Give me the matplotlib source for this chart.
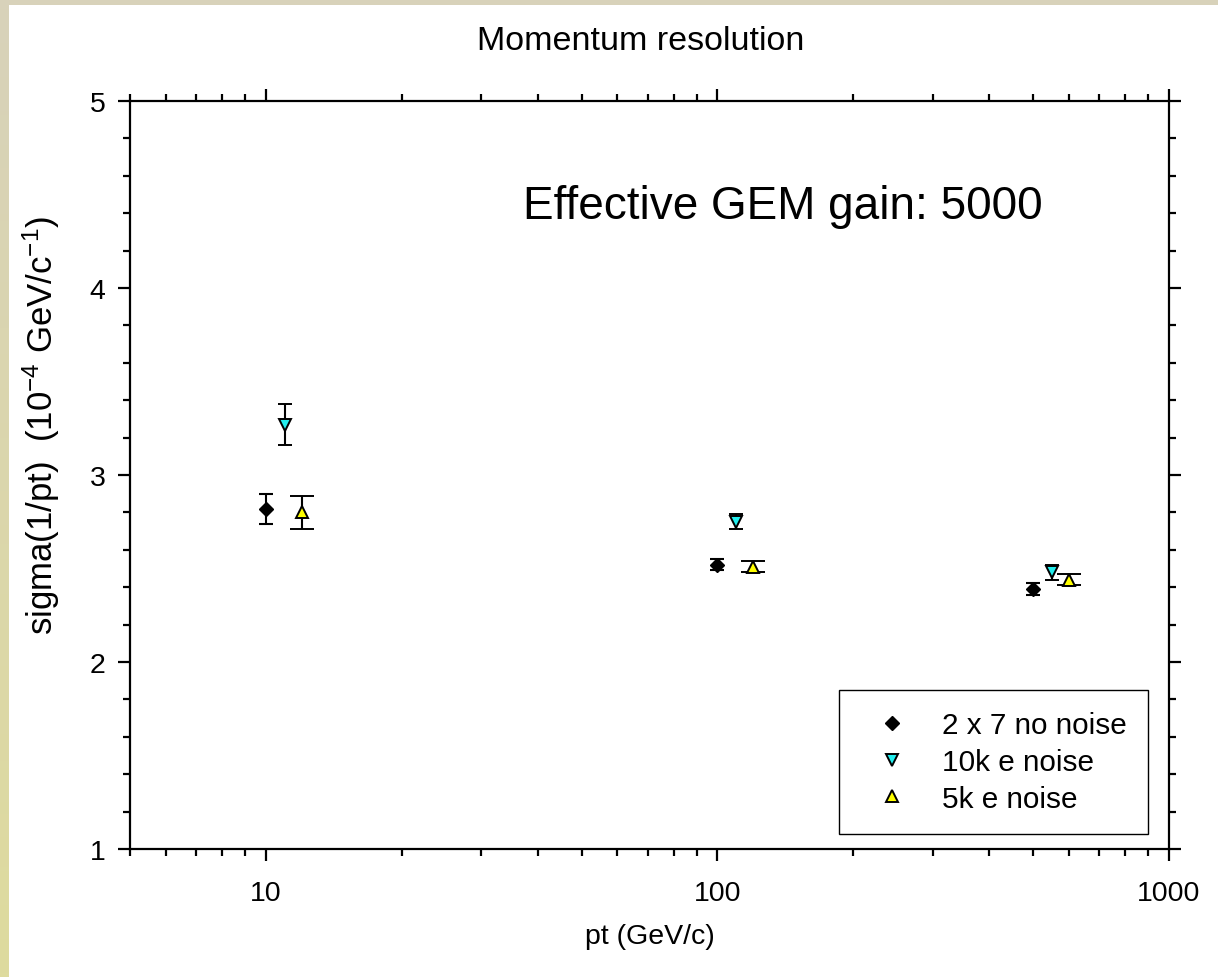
import numpy as np
import matplotlib
matplotlib.use("Agg")
import matplotlib.pyplot as plt
from matplotlib.patches import Rectangle
from matplotlib.ticker import FixedLocator, NullFormatter, FixedFormatter

plt.rcParams['font.family'] = ['Liberation Sans', 'DejaVu Sans']
plt.rcParams['mathtext.fontset'] = 'custom'
plt.rcParams['mathtext.rm'] = 'Liberation Sans'
plt.rcParams['mathtext.it'] = 'Liberation Sans'
plt.rcParams['mathtext.sf'] = 'Liberation Sans'

# data
pt_nonoise = [10, 100, 500]
sig_nonoise = [2.82, 2.52, 2.39]
err_nonoise = [0.08, 0.03, 0.03]

pt_10k = [11, 110, 550]
sig_10k = [3.27, 2.75, 2.48]
err_10k = [0.11, 0.04, 0.04]

pt_5k = [12, 120, 600]
sig_5k = [2.80, 2.51, 2.44]
err_5k = [0.09, 0.03, 0.03]

labels = ["2 x 7 no noise", "10k e noise", "5k e noise"]
x_ticks = [10, 100, 1000]
y_ticks = [1, 2, 3, 4, 5]

W, H = 1218, 978
fig = plt.figure(figsize=(W / 100, H / 100), dpi=100, facecolor='white')

# beige border strips
fig.add_artist(Rectangle((0, 1 - 6 / H), 1, 6 / H, transform=fig.transFigure,
                         facecolor='#d8d2ba', edgecolor='none', zorder=0))
gax = fig.add_axes([0, 0, 9 / W, 1 - 6 / H])
grad = np.linspace(0, 1, 256)[:, None]
c_top = np.array([216, 210, 186]) / 255
c_bot = np.array([222, 219, 158]) / 255
img = c_top[None, None, :] * (1 - grad[:, :, None]) + c_bot[None, None, :] * grad[:, :, None]
gax.imshow(img, aspect='auto', extent=[0, 1, 0, 1])
gax.set_axis_off()

ax = fig.add_axes([130 / W, 1 - 850 / H, (1169 - 130) / W, (850 - 102) / H])
ax.set_xscale('log')
ax.set_xlim(5, 1000)
ax.set_ylim(1, 5)

CYAN = '#22eeee'
YELLOW = '#ffff00'
ekw = dict(linestyle='none', ecolor='black', elinewidth=1.5, capthick=1.5)
ax.errorbar(pt_nonoise, sig_nonoise, yerr=err_nonoise, marker='D', markersize=7.2,
            markerfacecolor='black', markeredgecolor='black', capsize=5, **ekw, zorder=3)
ax.errorbar(pt_10k, sig_10k, yerr=err_10k, marker='v', markersize=9,
            markerfacecolor=CYAN, markeredgecolor='black', markeredgewidth=1.4,
            capsize=5, **ekw, zorder=3)
ax.errorbar(pt_5k, sig_5k, yerr=err_5k, marker='^', markersize=9,
            markerfacecolor=YELLOW, markeredgecolor='black', markeredgewidth=1.4,
            capsize=8.3, **ekw, zorder=3)

# legend handles (markers only)
h1, = ax.plot([], [], linestyle='none', marker='D', markersize=6.8,
              markerfacecolor='black', markeredgecolor='black')
h2, = ax.plot([], [], linestyle='none', marker='v', markersize=8.5,
              markerfacecolor=CYAN, markeredgecolor='black', markeredgewidth=1.4)
h3, = ax.plot([], [], linestyle='none', marker='^', markersize=8.5,
              markerfacecolor=YELLOW, markeredgecolor='black', markeredgewidth=1.4)
leg = ax.legend([h1, h2, h3], labels, loc='lower right',
                bbox_to_anchor=((1148 - 130) / (1169 - 130), (850 - 835) / (850 - 102)),
                borderaxespad=0, fontsize=21.4, frameon=True, fancybox=False,
                handlelength=2.15, handletextpad=0.6, labelspacing=0.29,
                borderpad=0.72)
leg.get_frame().set_edgecolor('black')
leg.get_frame().set_linewidth(1.0)
leg.get_frame().set_alpha(1)

for s in ax.spines.values():
    s.set_linewidth(1.6)
    s.set_color('black')

ax.xaxis.set_major_locator(FixedLocator(x_ticks))
ax.xaxis.set_major_formatter(FixedFormatter([str(v) for v in x_ticks]))
ax.xaxis.set_minor_locator(FixedLocator([5, 6, 7, 8, 9] + [v * m for v in [10, 100] for m in range(2, 10)]))
ax.xaxis.set_minor_formatter(NullFormatter())
ax.yaxis.set_major_locator(FixedLocator(y_ticks))
ax.yaxis.set_minor_locator(FixedLocator(np.arange(1, 5.01, 0.2)))

ax.tick_params(which='both', direction='out', top=True, right=True,
               width=1.6, colors='black', labelsize=20.5)
ax.tick_params(which='major', length=8.5)
ax.tick_params(which='minor', length=5)
ax.tick_params(axis='x', which='major', pad=14)
ax.tick_params(axis='y', which='major', pad=9)

ax.set_xlabel('pt (GeV/c)', fontsize=20.5, labelpad=12)
fig.text(41 / W, 1 - 425 / H, r'sigma(1/pt)  (10$^{-4}$ GeV/c$^{-1}$)', fontsize=25,
         rotation=90, ha='center', va='center')

fig.text(641 / W, 1 - 41 / H, 'Momentum resolution', fontsize=24.5,
         ha='center', va='center')
ax.text((523 - 130) / (1169 - 130), (850 - 207) / (850 - 102), 'Effective GEM gain: 5000',
        transform=ax.transAxes, fontsize=33, ha='left', va='center')

fig.savefig('out.png', dpi=100, facecolor='white')
